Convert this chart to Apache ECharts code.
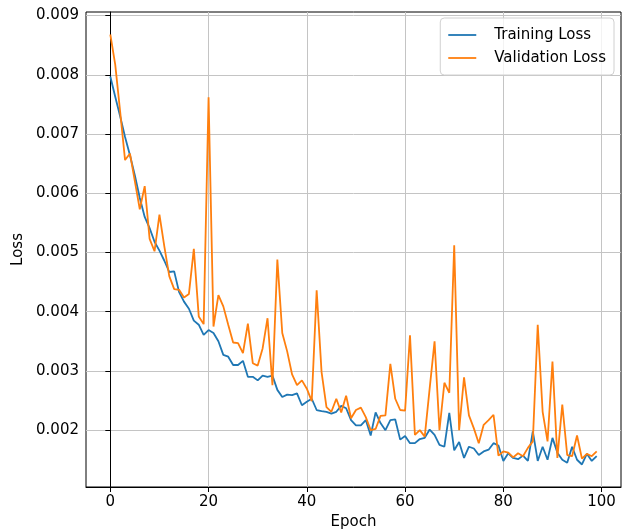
<!DOCTYPE html>
<html>
<head>
<meta charset="utf-8">
<script src="https://cdn.jsdelivr.net/npm/echarts@6/dist/echarts.min.js"></script>
<style>
  html, body { margin: 0; padding: 0; background: #fff; }
  #chart { width: 630px; height: 531px; }
</style>
</head>
<body>
<div id="chart"></div>
<script>
// epochs 0..99
const epochs = Array.from({ length: 100 }, (_, i) => i)

const trainingLoss = [
  0.00797, 0.00763, 0.00730, 0.00695, 0.00664, 0.00630, 0.00592, 0.00560, 0.00541, 0.00518,
  0.00503, 0.00486, 0.00467, 0.00468, 0.00433, 0.00417, 0.00405, 0.00385, 0.00378, 0.00361,
  0.00369, 0.00364, 0.00350, 0.00327, 0.00324, 0.00310, 0.00310, 0.00317, 0.00290, 0.00290,
  0.00284, 0.00292, 0.00290, 0.00292, 0.00268, 0.00256, 0.00260, 0.00259, 0.00262, 0.00242,
  0.00248, 0.00253, 0.00234, 0.00232, 0.00231, 0.00228, 0.00231, 0.00241, 0.00237, 0.00217,
  0.00208, 0.00208, 0.00217, 0.00191, 0.00230, 0.00212, 0.00200, 0.00217, 0.00218, 0.00184,
  0.00190, 0.00178, 0.00178, 0.00185, 0.00187, 0.00201, 0.00192, 0.00175, 0.00172, 0.00229,
  0.00166, 0.00180, 0.00153, 0.00172, 0.00169, 0.00158, 0.00164, 0.00167, 0.00178, 0.00174,
  0.00148, 0.00161, 0.00153, 0.00151, 0.00157, 0.00148, 0.00198, 0.00148, 0.00172, 0.00150,
  0.00187, 0.00162, 0.00150, 0.00145, 0.00172, 0.00150, 0.00142, 0.00160, 0.00148, 0.00156
]

const validationLoss = [
  0.00868, 0.00817, 0.00738, 0.00656, 0.00667, 0.00620, 0.00573, 0.00612, 0.00523, 0.00502,
  0.00564, 0.00510, 0.00460, 0.00438, 0.00437, 0.00424, 0.00430, 0.00506, 0.00392, 0.00379,
  0.00762, 0.00375, 0.00428, 0.00409, 0.00378, 0.00348, 0.00347, 0.00330, 0.00380, 0.00313,
  0.00309, 0.00338, 0.00389, 0.00276, 0.00488, 0.00364, 0.00333, 0.00294, 0.00276, 0.00284,
  0.00270, 0.00249, 0.00436, 0.00298, 0.00239, 0.00231, 0.00253, 0.00230, 0.00258, 0.00220,
  0.00234, 0.00238, 0.00222, 0.00200, 0.00202, 0.00224, 0.00225, 0.00312, 0.00253, 0.00234,
  0.00233, 0.00360, 0.00192, 0.00200, 0.00189, 0.00270, 0.00350, 0.00200, 0.00280, 0.00263,
  0.00512, 0.00200, 0.00289, 0.00225, 0.00203, 0.00178, 0.00209, 0.00217, 0.00226, 0.00157,
  0.00164, 0.00162, 0.00154, 0.00161, 0.00156, 0.00170, 0.00181, 0.00378, 0.00231, 0.00181,
  0.00316, 0.00153, 0.00243, 0.00158, 0.00156, 0.00191, 0.00152, 0.00160, 0.00156, 0.00164
]

const xTicks = [0, 20, 40, 60, 80, 100]
const yTicks = [0.002, 0.003, 0.004, 0.005, 0.006, 0.007, 0.008, 0.009]

const font = 'DejaVu Sans'
const chart = echarts.init(document.getElementById('chart'))

const option = {
  animation: false,
  textStyle: { fontFamily: font },
  grid: {
    left: 86,
    right: 9,
    top: 12,
    bottom: 44,
    outerBoundsMode: 'none',
    show: true,
    borderColor: '#000',
    borderWidth: 1
  },
  legend: {
    orient: 'vertical',
    right: 16,
    top: 18,
    backgroundColor: 'rgba(255,255,255,0.8)',
    borderColor: '#d0d0d0',
    borderWidth: 1,
    borderRadius: 4,
    padding: [8, 8, 8, 8],
    icon: 'rect',
    itemWidth: 28,
    itemHeight: 1.8,
    itemGap: 5,
    textStyle: { fontFamily: font, fontSize: 15, color: '#000', padding: [0, 0, 0, 13], lineHeight: 18 },
    data: ['Training Loss', 'Validation Loss']
  },
  xAxis: {
    type: 'value',
    min: -4.95,
    max: 103.95,
    name: 'Epoch',
    nameLocation: 'middle',
    nameGap: 27,
    nameTextStyle: { fontFamily: font, fontSize: 15, color: '#000' },
    axisLine: { lineStyle: { color: '#000' } },
    axisTick: { show: true, length: 5, customValues: xTicks, lineStyle: { color: '#000' } },
    axisLabel: {
      customValues: xTicks,
      margin: 8,
      fontSize: 15,
      color: '#000',
      fontFamily: font
    },
    splitLine: { show: true, lineStyle: { color: '#c4c4c4', width: 1 } }
  },
  yAxis: {
    type: 'value',
    min: 0.00104,
    max: 0.00906,
    name: 'Loss',
    nameLocation: 'middle',
    nameGap: 58,
    nameTextStyle: { fontFamily: font, fontSize: 15, color: '#000' },
    axisLine: { show: true, lineStyle: { color: '#000' } },
    axisTick: { show: true, length: 5, customValues: yTicks, lineStyle: { color: '#000' } },
    axisLabel: {
      customValues: yTicks,
      margin: 7,
      fontSize: 15,
      color: '#000',
      fontFamily: font,
      formatter: v => v.toFixed(3)
    },
    splitLine: { show: true, lineStyle: { color: '#c4c4c4', width: 1 } }
  },
  series: [
    {
      name: 'Training Loss',
      type: 'line',
      data: epochs.map((e, i) => [e, trainingLoss[i]]),
      symbol: 'none',
      color: '#1f77b4',
      lineStyle: { width: 1.8 },
      z: 3
    },
    {
      name: 'Validation Loss',
      type: 'line',
      data: epochs.map((e, i) => [e, validationLoss[i]]),
      symbol: 'none',
      color: '#ff7f0e',
      lineStyle: { width: 1.8 },
      z: 4
    }
  ]
}

chart.setOption(option)
</script>
</body>
</html>
